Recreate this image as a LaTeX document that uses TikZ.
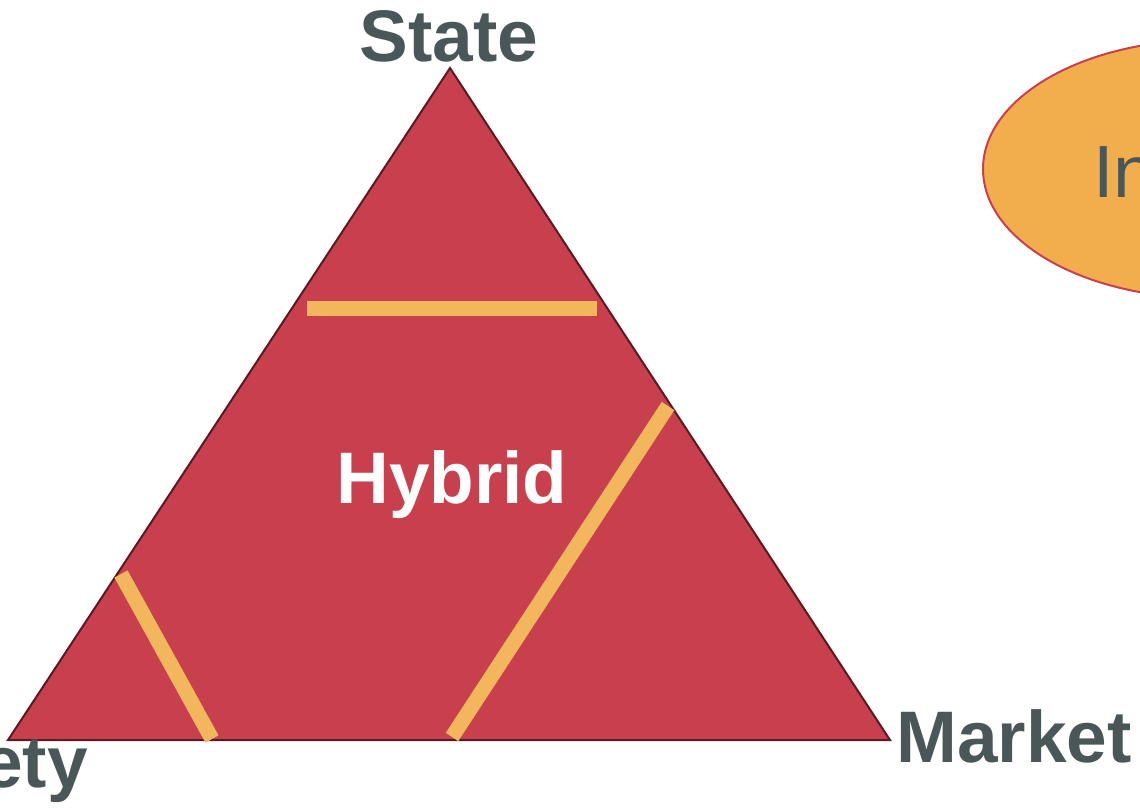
\documentclass[tikz,border=0pt]{standalone}
\usepackage{fontspec}
\setmainfont{Liberation Sans}
\definecolor{hybridred}{HTML}{C83F4E}
\definecolor{edgered}{HTML}{5A1A22}
\definecolor{barorange}{HTML}{F2B65C}
\definecolor{ovalorange}{HTML}{F2AE4C}
\definecolor{labelgray}{HTML}{4A5759}

\begin{document}
\begin{tikzpicture}[x=1pt,y=-1pt]
\tikzstyle{every node}+=[inner sep=0pt]
\tikzstyle{corner}=[text=labelgray,font=\fontsize{73}{80}\selectfont\bfseries]
\tikzstyle{bar}=[barorange,line width=15pt]
\useasboundingbox (0,0) rectangle (1140,808);
% the oval, mostly off the page
\draw [hybridred,fill=ovalorange,line width=2pt] (1207,169) ellipse [x radius=224,y radius=129];
\node [anchor=base west,text=labelgray,font=\fontsize{74}{80}\selectfont] (inst) at (1093,197) {In};
% the triangle
\coordinate (top) at (450,68);
\coordinate (left) at (8,740);
\coordinate (right) at (890,740);
\draw [edgered,fill=hybridred,line width=2pt,line join=miter] (top) -- (left) -- (right) -- cycle;
\draw [bar] (307,308) -- (597,308);
\draw [bar] (668,406) -- (452,737);
\draw [bar] (121,574) -- (212,739);
\node [anchor=base,text=white,font=\fontsize{73}{80}\selectfont\bfseries] (hybrid) at (452,503) {Hybrid};
\node [corner,anchor=base] (state) at (449,62) {State};
\node [corner,anchor=base west] (market) at (896,762) {Market};
\node [corner,anchor=base east] (society) at (88,787) {Society};
\end{tikzpicture}
\end{document}
